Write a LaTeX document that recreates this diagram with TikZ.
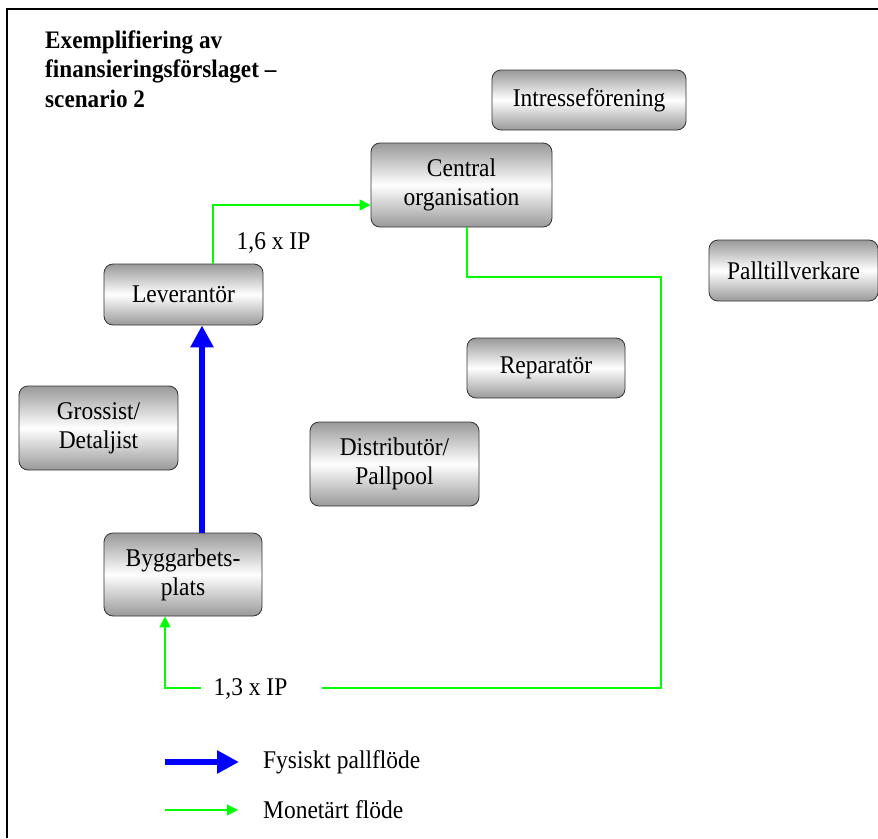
\documentclass[tikz,border=0pt]{standalone}
\usepackage{fontspec}
\setmainfont[FakeStretch=0.92]{Liberation Serif}
\usetikzlibrary{arrows.meta}
\definecolor{lgreen}{RGB}{0,255,0}
\definecolor{mblue}{RGB}{0,0,255}
\begin{document}
\begin{tikzpicture}[x=1pt,y=-1pt,
  box/.style={draw=black!80, line width=0.8pt, rounded corners=9pt,
    top color=black!40, bottom color=black!40, middle color=white,
    align=center, inner sep=0pt, font=\fontsize{25.5}{29}\selectfont},
  money/.style={draw=lgreen, line width=1.3pt},
  moneyarrow/.style={money, -{Triangle[width=11pt,length=11pt]}},
  physarrow/.style={draw=mblue, line width=6pt, -{Triangle[width=22pt,length=22pt]}},
  lbl/.style={font=\fontsize{25.5}{28}\selectfont, inner sep=0pt}]
\useasboundingbox (0,0) rectangle (878,838);
\draw[line width=1.5pt] (7,838) -- (7,9) -- (878,9);
\node[anchor=base west, align=left, inner sep=0pt, font=\fontsize{25.2}{29.5}\selectfont\bfseries]
  (title) at (45,107) {Exemplifiering av\\finansieringsförslaget –\\scenario 2};

\node[box, minimum width=194pt, minimum height=60pt] (intr) at (589,100) {Intresseförening};
\node[box, minimum width=181pt, minimum height=84pt] (cent) at (461.5,185) {Central\\organisation};
\node[box, minimum width=159pt, minimum height=61pt] (lev) at (183.5,294.5) {Leverantör};
\node[box, minimum width=169pt, minimum height=61pt] (pall) at (793.5,270.5) {Palltillverkare};
\node[box, minimum width=158pt, minimum height=60pt] (rep) at (546,368) {Reparatör};
\node[box, minimum width=159pt, minimum height=84pt] (gros) at (98.5,428) {Grossist/\\Detaljist};
\node[box, minimum width=169pt, minimum height=84pt] (dist) at (394.5,464) {Distributör/\\Pallpool};
\node[box, minimum width=158pt, minimum height=83pt] (bygg) at (183,574.5) {Byggarbets-\\plats};

% physical flow
\draw[physarrow] (bygg.north -| 202,0) -- (lev.south -| 202,0);

% monetary flow
\draw[moneyarrow] (lev.north -| 213,0) |- (cent.west |- 0,205);
\node[lbl] (l16) at (273.5,243) {1,6 x IP};
\coordinate (c1) at (322,688);
\coordinate (c2) at (201,688);
\draw[money] (cent.south -| 467,0) |- (661,277) |- (c1);
\node[lbl] (l13) at (250.5,689) {1,3 x IP};
\draw[moneyarrow] (c2) -| (bygg.south -| 165,0);

% legend
\coordinate (la1) at (165,762);
\coordinate (la2) at (239,762);
\draw[physarrow] (la1) -- (la2);
\node[lbl, anchor=west] (lt1) at (263,762) {Fysiskt pallflöde};
\coordinate (lb1) at (165,810);
\coordinate (lb2) at (238,810);
\draw[moneyarrow] (lb1) -- (lb2);
\node[lbl, anchor=west] (lt2) at (263,810) {Monetärt flöde};
\end{tikzpicture}
\end{document}
